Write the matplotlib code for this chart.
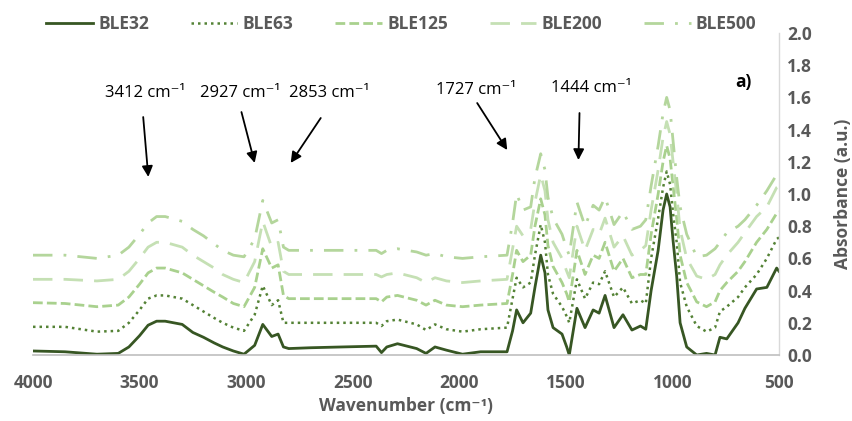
import matplotlib
matplotlib.use("Agg")
import matplotlib.pyplot as plt
from matplotlib.ticker import FormatStrFormatter, MultipleLocator

FONT = ['Open Sans', 'DejaVu Sans']
plt.rcParams['font.family'] = FONT

wavenumber = [4000, 3850, 3700, 3600, 3550, 3500, 3460, 3420, 3380, 3300, 3250, 3200, 3150, 3110,
              3060, 3010, 2960, 2922, 2880, 2850, 2825, 2800, 2700, 2550, 2390, 2365, 2340, 2290,
              2200, 2156, 2114, 2060, 1985, 1900, 1776, 1750, 1731, 1701, 1665, 1645, 1618, 1598,
              1584, 1560, 1518, 1496, 1484, 1448, 1410, 1372, 1344, 1316, 1274, 1232, 1190, 1150,
              1125, 1100, 1067, 1044, 1027, 1011, 997, 980, 964, 933, 886, 840, 800, 777, 745,
              692, 660, 605, 557, 511, 500]

ble32 = [.025, .02, .005, .01, .05, .12, .185, .21, .21, .19, .14, .11, .075, .05,
         .025, .005, .06, .19, .115, .13, .05, .04, .045, .05, .055, .015, .05, .07,
         .04, .01, .05, .03, .005, .02, .02, .15, .28, .20, .26, .42, .62, .51,
         .28, .17, .13, .05, .0, .29, .17, .28, .26, .37, .17, .25, .155, .18,
         .16, .40, .65, .90, 1.0, .92, .71, .49, .20, .05, .0, .01, .0, .11, .10,
         .20, .29, .41, .42, .54, .52]

ble63 = [.175, .175, .145, .15, .20, .28, .35, .37, .37, .35, .31, .27, .23, .20,
         .17, .15, .25, .43, .31, .34, .20, .20, .20, .20, .20, .18, .21, .22,
         .19, .155, .19, .16, .145, .16, .17, .35, .48, .42, .45, .62, .81, .70,
         .50, .38, .30, .24, .20, .47, .35, .45, .44, .52, .36, .42, .32, .34,
         .32, .60, .85, 1.04, 1.14, 1.06, .88, .70, .45, .30, .18, .145, .17, .27, .30,
         .36, .42, .50, .60, .72, .73]

ble125 = [.325, .32, .30, .31, .36, .44, .51, .54, .54, .51, .47, .43, .39, .36,
          .32, .30, .42, .66, .54, .56, .37, .35, .35, .35, .35, .33, .36, .37,
          .34, .31, .34, .31, .30, .31, .32, .50, .65, .58, .62, .80, .97, .87,
          .68, .55, .45, .38, .33, .65, .50, .62, .60, .70, .52, .60, .48, .50,
          .50, .75, 1.0, 1.2, 1.3, 1.22, 1.05, .85, .62, .45, .33, .30, .33, .40, .45,
          .52, .58, .70, .78, .88, .89]

ble200 = [.47, .47, .46, .47, .52, .60, .67, .70, .70, .67, .62, .58, .54, .50,
          .47, .45, .58, .83, .67, .70, .52, .50, .50, .50, .50, .485, .50, .51,
          .48, .45, .48, .46, .45, .46, .47, .66, .80, .74, .78, .95, 1.12, 1.02,
          .84, .70, .60, .52, .48, .80, .65, .78, .75, .85, .67, .74, .62, .65,
          .68, .90, 1.15, 1.35, 1.45, 1.37, 1.2, 1.0, .78, .60, .49, .47, .50, .56, .62,
          .70, .76, .86, .92, 1.04, 1.05]

ble500 = [.62, .62, .60, .62, .67, .75, .82, .86, .86, .83, .78, .74, .69, .65,
          .62, .61, .72, .96, .82, .84, .67, .65, .65, .65, .65, .63, .65, .66,
          .64, .62, .63, .61, .60, .61, .62, .82, 1.0, .90, .92, 1.10, 1.25, 1.15,
          .98, .85, .75, .66, .62, .95, .80, .93, .90, .98, .81, .89, .78, .80,
          .84, 1.05, 1.3, 1.5, 1.6, 1.52, 1.33, 1.1, .92, .75, .61, .62, .66, .70, .76,
          .80, .84, .93, 1.02, 1.12, 1.14]

series_names = ['BLE32', 'BLE63', 'BLE125', 'BLE200', 'BLE500']
series_values = [ble32, ble63, ble125, ble200, ble500]
colors = ['#375623', '#548235', '#a9d18e', '#c5e0b4', '#b4d69c']
styles = ['-', (0, (1, 1.6)), (0, (3.5, 1.5)), (0, (7, 4)), (0, (7, 4, 1, 4))]
widths = [2.0, 1.8, 2.0, 2.0, 2.0]

peak_labels = ['3412', '2927', '2853', '1727', '1444']
label_xy = [(3473, 1.627), (3026, 1.627), (2612, 1.627), (1921, 1.646), (1380, 1.658)]
arrow_start = [(3483, 1.478), (3022, 1.509), (2650, 1.472), (1916, 1.565), (1436, 1.503)]
arrow_end = [(3459, 1.106), (2960, 1.193), (2791, 1.193), (1775, 1.273), (1441, 1.211)]

fig = plt.figure(figsize=(8.52, 4.21), dpi=100)
ax = fig.add_axes([33 / 852, 1 - 355 / 421, (779 - 33) / 852, (355 - 33) / 421])

for name, vals, c, ls, lw in zip(series_names, series_values, colors, styles, widths):
    ax.plot(wavenumber, vals, color=c, linestyle=ls, linewidth=lw, label=name,
            solid_joinstyle='round', dash_joinstyle='round')

ax.set_xlim(4000, 500)
ax.set_ylim(0, 2.0)
ax.xaxis.set_major_locator(MultipleLocator(500))
ax.yaxis.set_major_locator(MultipleLocator(0.2))
ax.yaxis.set_major_formatter(FormatStrFormatter('%.1f'))
ax.yaxis.tick_right()
ax.yaxis.set_label_position('right')

for s in ['top', 'left']:
    ax.spines[s].set_visible(False)
ax.spines['bottom'].set_color('#bfbfbf')
ax.spines['right'].set_color('#d9d9d9')
ax.spines['bottom'].set_linewidth(1.2)
ax.spines['right'].set_linewidth(1.0)

ax.tick_params(axis='x', length=0, pad=14, labelsize=12.5, labelcolor='#595959')
ax.tick_params(axis='y', length=0, pad=6, labelsize=12.5, labelcolor='#595959')
for lab in ax.get_xticklabels() + ax.get_yticklabels():
    lab.set_fontweight('bold')

ax.set_xlabel('Wavenumber (cm\u207b\u00b9)', fontsize=12.5, fontweight='bold',
              color='#595959', labelpad=3)
ax.set_ylabel('Absorbance (a.u.)', fontsize=12.5, fontweight='bold', color='#595959',
              labelpad=16, rotation=90)

for lbl, (tx, ty), (sx, sy), (ex, ey) in zip(peak_labels, label_xy, arrow_start, arrow_end):
    ax.text(tx, ty, lbl + ' cm\u207b\u00b9', ha='center', va='center', fontsize=12,
            color='black')
    ax.annotate('', xy=(ex, ey), xytext=(sx, sy),
                arrowprops=dict(arrowstyle='-|>', color='black', lw=1.3,
                                mutation_scale=16, shrinkA=0, shrinkB=0))

ax.text(665, 1.696, 'a)', ha='center', va='center', fontsize=12.5, fontweight='bold',
        color='black')

leg = fig.legend(loc='center', bbox_to_anchor=(0.471, 0.943), ncol=5, frameon=False,
                 fontsize=12.5, handlelength=2.7, handletextpad=0.3, columnspacing=2.4)
for t in leg.get_texts():
    t.set_color('#595959')
    t.set_fontweight('bold')

fig.savefig('out.png', dpi=100)
